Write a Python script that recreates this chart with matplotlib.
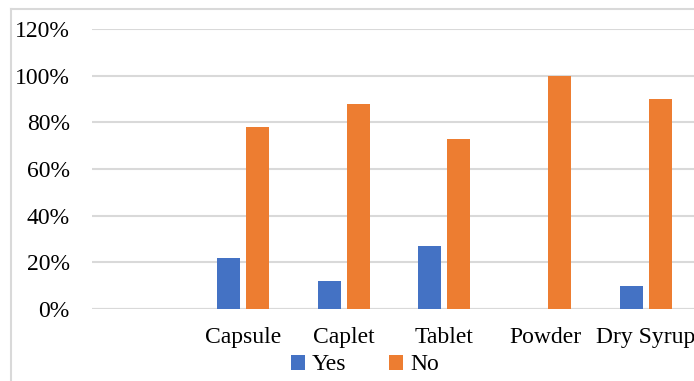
import numpy as np
import matplotlib
matplotlib.use('Agg')
import matplotlib.pyplot as plt
from matplotlib.lines import Line2D
from matplotlib.ticker import PercentFormatter

plt.rcParams['font.family'] = ['Liberation Serif', 'DejaVu Serif']

# Dosage forms (first slot is a blank row in the source table)
forms = ['', 'Capsule', 'Caplet', 'Tablet', 'Powder', 'Dry Syrup']
yes_pct = [np.nan, 22, 12, 27, 0, 10]
no_pct = [np.nan, 78, 88, 73, 100, 90]

blue = '#4472C4'
orange = '#ED7D31'
grid_col = '#D9D9D9'

fig = plt.figure(figsize=(6.94, 3.81), dpi=100)
ax = fig.add_axes([92 / 694, 1 - 309 / 381, 604 / 694, 280 / 381])

x = np.arange(len(forms))
w = 0.228
ax.bar(x - 0.144, np.array(yes_pct) / 100, width=w, color=blue, label='Yes', zorder=3)
ax.bar(x + 0.144, np.array(no_pct) / 100, width=w, color=orange, label='No', zorder=3)

ax.set_xlim(-0.5, len(forms) - 0.5)
ax.set_ylim(0, 1.2)
ax.set_yticks(np.arange(0, 1.21, 0.2))
ax.yaxis.set_major_formatter(PercentFormatter(1.0, decimals=0))
ax.set_xticks(x)
ax.set_xticklabels(forms)
ax.tick_params(axis='both', length=0, labelsize=17, colors='black')
ax.tick_params(axis='y', pad=16)
ax.tick_params(axis='x', pad=13)
ax.grid(axis='y', color=grid_col, linewidth=1.5, zorder=0)
for s in ax.spines.values():
    s.set_visible(False)
ax.axhline(0, color=grid_col, linewidth=1.5, zorder=2)

# outer chart frame (left and top edges visible)
fig.add_artist(Line2D([11 / 694, 11 / 694], [0, 1 - 9 / 381], transform=fig.transFigure,
                      color=grid_col, linewidth=1.5))
fig.add_artist(Line2D([11 / 694, 1], [1 - 9 / 381, 1 - 9 / 381], transform=fig.transFigure,
                      color=grid_col, linewidth=1.5))

fig.legend(loc='center', bbox_to_anchor=(365 / 694, 1 - 365 / 381), ncol=2, frameon=False,
           fontsize=17, handlelength=0.6, handleheight=0.6, handletextpad=0.3,
           columnspacing=1.8, borderpad=0)

fig.savefig('out.png', dpi=100)
